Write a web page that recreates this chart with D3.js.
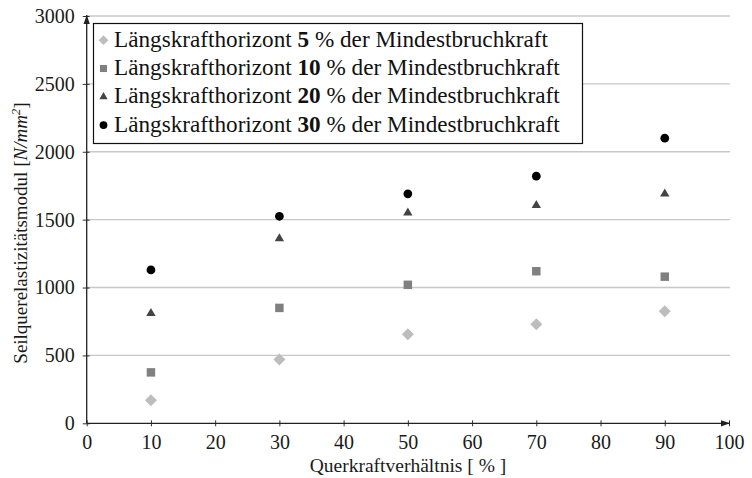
<!DOCTYPE html>
<html><head><meta charset="utf-8">
<script src="https://cdn.jsdelivr.net/npm/d3@7"></script>
<style>body{margin:0;background:#fff}svg{display:block}text{font-family:"Liberation Serif","DejaVu Serif",serif}</style>
</head><body>
<svg id="c" width="752" height="478"></svg>
<script>
const categories = [10, 30, 50, 70, 90];
const s5  = [170, 470, 655, 730, 825];
const s10 = [375, 850, 1020, 1120, 1080];
const s20 = [810, 1360, 1550, 1605, 1690];
const s30 = [1130, 1525, 1690, 1820, 2100];
const seriesNames = ["5", "10", "20", "30"];
const xTicks = [0,10,20,30,40,50,60,70,80,90,100];
const yTicks = [0,500,1000,1500,2000,2500,3000];

const series = [
  {name: seriesNames[0], values: s5,  sym: d3.symbolSquare,   rot: 45, color: "#bdbdbd", size: 72,  lsize: 48},
  {name: seriesNames[1], values: s10, sym: d3.symbolSquare,   rot: 0,  color: "#808080", size: 72,  lsize: 50},
  {name: seriesNames[2], values: s20, sym: d3.symbolTriangle, rot: 0,  color: "#444444", size: 38,  lsize: 30},
  {name: seriesNames[3], values: s30, sym: d3.symbolCircle,   rot: 0,  color: "#000000", size: 60,  lsize: 48}
];

const svg = d3.select("#c");
const x = d3.scaleLinear().domain([0,100]).range([86.7, 729]);
const y = d3.scaleLinear().domain([0,3000]).range([423.3, 16]);

// grid
svg.append("g").selectAll("line").data(yTicks.filter(d=>d>0)).join("line")
  .attr("x1", x(0)).attr("x2", 730).attr("y1", d=>y(d)).attr("y2", d=>y(d))
  .attr("stroke", "#c8c8c8").attr("stroke-width", 1.4);

// axes
const gx = svg.append("g").attr("transform", `translate(0,${y(0)})`)
  .call(d3.axisBottom(x).tickValues(xTicks).tickSize(6).tickPadding(8).tickFormat(d3.format("d")));
gx.select(".domain").remove();
gx.selectAll(".tick line").attr("y1", -3).attr("y2", 3).attr("stroke", "#333");
gx.selectAll("text").attr("font-size", 20).attr("fill", "#1a1a1a").attr("dy", "0.72em").attr("y", 11);

const gy = svg.append("g").attr("transform", `translate(${x(0)},0)`)
  .call(d3.axisLeft(y).tickValues(yTicks).tickSize(6).tickPadding(10).tickFormat(d3.format("d")));
gy.select(".domain").remove();
gy.selectAll(".tick line").attr("x1", -4).attr("x2", 3).attr("stroke", "#333");
gy.selectAll("text").attr("font-size", 20).attr("fill", "#1a1a1a").attr("x", -12);

// axis lines with arrows
const defs = svg.append("defs");
defs.append("marker").attr("id","arr").attr("viewBox","0 0 10 10").attr("refX",10).attr("refY",5)
  .attr("markerWidth",7).attr("markerHeight",7).attr("orient","auto")
  .append("path").attr("d","M0,1.5 L10,5 L0,8.5 Z").attr("fill","#222");
svg.append("line").attr("x1", x(0)).attr("x2", x(0)).attr("y1", y(0)).attr("y2", y(3000)-1)
  .attr("stroke","#222").attr("stroke-width",1.3).attr("marker-end","url(#arr)");
svg.append("line").attr("x1", x(0)).attr("x2", x(100)+1).attr("y1", y(0)).attr("y2", y(0))
  .attr("stroke","#222").attr("stroke-width",1.3).attr("marker-end","url(#arr)");

// points
series.forEach(s => {
  svg.append("g").selectAll("path").data(s.values).join("path")
    .attr("transform", (d,i) => `translate(${x(categories[i])},${y(d)}) rotate(${s.rot})`)
    .attr("d", d3.symbol().type(s.sym).size(s.size))
    .attr("fill", s.color);
});

// legend
const lg = svg.append("g");
lg.append("rect").attr("x", 93.5).attr("y", 23.5).attr("width", 489).attr("height", 120)
  .attr("fill", "#fff").attr("stroke", "#111").attr("stroke-width", 1.2);
series.forEach((s, i) => {
  const by = 46.7 + i * 28.3;
  lg.append("path").attr("transform", `translate(103.5,${by - 6.5}) rotate(${s.rot})`)
    .attr("d", d3.symbol().type(s.sym).size(s.lsize)).attr("fill", s.color);
  const t = lg.append("text").attr("x", 114).attr("y", by).attr("font-size", 23.2).attr("fill", "#111");
  t.append("tspan").text("Längskrafthorizont ");
  t.append("tspan").attr("font-weight", "bold").text(s.name);
  t.append("tspan").text(" % der Mindestbruchkraft");
});

// axis titles
svg.append("text").attr("x", 408).attr("y", 472).attr("text-anchor", "middle")
  .attr("font-size", 19.5).attr("fill", "#1a1a1a").text("Querkraftverhältnis [ % ]");

const yt = svg.append("text").attr("transform", "translate(27,233) rotate(-90)")
  .attr("text-anchor", "middle").attr("font-size", 19).attr("fill", "#1a1a1a");
yt.append("tspan").text("Seilquerelastizitätsmodul [");
yt.append("tspan").attr("font-style", "italic").text("N/mm");
yt.append("tspan").attr("font-size", 13).attr("baseline-shift", "55%").attr("font-style","italic").text("2");
yt.append("tspan").text("]");
</script>
</body></html>
